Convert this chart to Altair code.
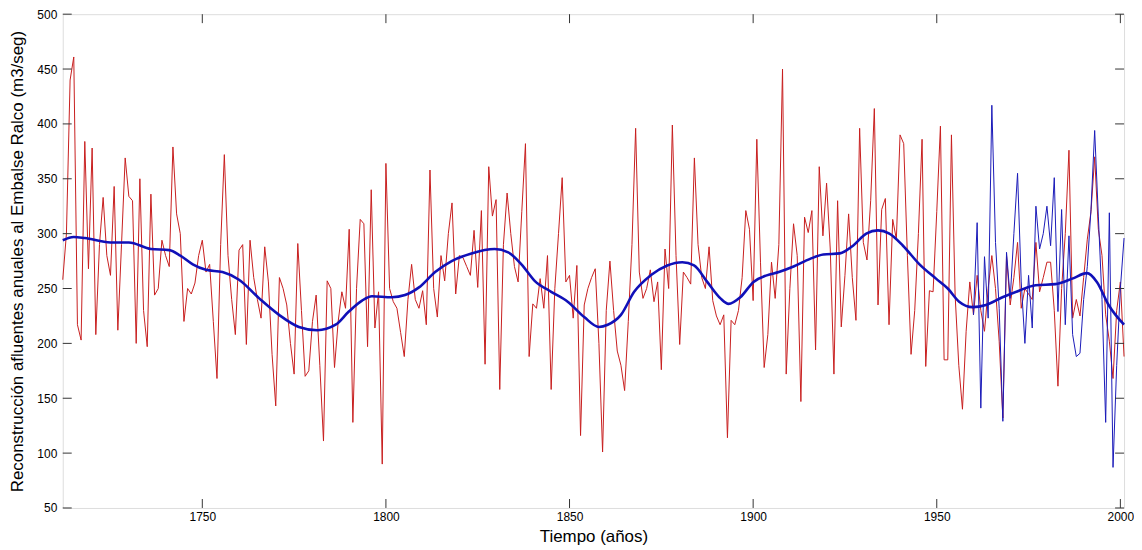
import altair as alt
import pandas as pd

# Red series: reconstructed annual inflows 1712-2001
red_start = 1712
red_values = [
    258, 300, 440, 461, 217, 203, 384, 268, 378, 208,   # 1712-1721
    290, 333, 280, 262, 343, 212, 290, 369, 334, 330,   # 1722-1731
    200, 350, 230, 197, 336, 244, 250, 294, 280, 270,   # 1732-1741
    379, 318, 300, 220, 250, 245, 255, 280, 294, 265,   # 1742-1751
    272, 220, 168, 290, 372, 280, 240, 208, 285, 290,   # 1752-1761
    199, 294, 260, 240, 223, 288, 256, 190, 143, 260,   # 1762-1771
    250, 235, 200, 172, 291, 230, 170, 175, 220, 244,   # 1772-1781
    180, 111, 257, 250, 178, 220, 247, 232, 304, 128,   # 1782-1791
    250, 313, 309, 197, 340, 214, 247, 90, 364, 250,    # 1792-1801
    238, 232, 210, 188, 240, 272, 240, 232, 248, 217,   # 1802-1811
    358, 250, 224, 280, 257, 300, 328, 245, 280, 278,   # 1812-1821
    270, 262, 303, 251, 321, 181, 361, 316, 331, 158,   # 1822-1831
    290, 337, 300, 270, 256, 320, 382, 188, 236, 232,   # 1832-1841
    259, 232, 280, 158, 250, 300, 351, 256, 262, 223,   # 1842-1851
    271, 116, 235, 250, 260, 268, 200, 101, 230, 275,   # 1852-1861
    230, 193, 180, 157, 220, 290, 396, 265, 241, 250,   # 1862-1871
    267, 238, 256, 176, 286, 250, 399, 280, 199, 265,   # 1872-1881
    260, 254, 369, 290, 260, 250, 288, 239, 225, 217,   # 1882-1891
    226, 114, 221, 217, 230, 260, 321, 304, 239, 386,   # 1892-1901
    274, 178, 208, 274, 241, 290, 450, 172, 250, 309,   # 1902-1911
    280, 147, 315, 301, 321, 194, 361, 298, 346, 286,   # 1912-1921
    172, 330, 215, 262, 318, 260, 221, 396, 292, 276,   # 1922-1931
    330, 414, 235, 322, 332, 217, 313, 295, 390, 382,   # 1932-1941
    280, 190, 230, 300, 386, 179, 248, 247, 320, 398,   # 1942-1951
    185, 185, 390, 244, 180, 140, 211, 256, 226, 262,   # 1952-1961
    230, 211, 250, 280, 250, 202, 132, 280, 235, 260,   # 1962-1971
    292, 232, 250, 245, 240, 292, 247, 260, 274, 274,   # 1972-1981
    230, 161, 250, 300, 376, 223, 240, 225, 260, 295,   # 1982-1991
    320, 370, 304, 280, 226, 202, 168, 230, 256, 188,   # 1992-2001
]

# Blue thin series: observed inflows 1960-2001
blue_start = 1960
blue_values = [
    226, 310, 141, 279, 223, 417, 292, 232, 129, 283,   # 1960-1969
    241, 300, 355, 256, 200, 262, 214, 325, 286, 300,   # 1970-1979
    325, 289, 351, 229, 322, 217, 298, 208, 188, 191,   # 1980-1989
    240, 270, 322, 394, 316, 240, 128, 319, 87, 180,    # 1990-1999
    250, 296,                                           # 2000-2001
]

# Smoothed curve (thick blue)
smooth_years = [1712, 1715, 1718, 1725, 1730, 1736, 1741, 1744, 1747.4, 1751,
                1755.5, 1760, 1765.5, 1770.9, 1776.3, 1781.3, 1786.3, 1789.9,
                1793.5, 1796.2, 1801.6, 1805.2, 1809, 1813.4, 1817.9, 1823.3,
                1829.6, 1833.3, 1836.9, 1840.5, 1845, 1849.5, 1854, 1858,
                1860.4, 1864, 1867.6, 1872.1, 1876.6, 1880.7, 1883.9, 1887.5,
                1891.1, 1893.3, 1896.5, 1900.1, 1903.7, 1907, 1911, 1915.5,
                1919.1, 1923.6, 1927.2, 1930.8, 1934, 1937.1, 1940.8, 1945.3,
                1949.8, 1953, 1956.1, 1959.8, 1963.4, 1967.9, 1972.4, 1976.9,
                1982.3, 1986.9, 1990.9, 1993.6, 1996.8, 2001]
smooth_values = [294, 297, 296, 292, 292, 286, 285, 280, 272, 267,
                 265, 258, 241, 226, 215, 212, 217, 229,
                 239, 243, 242, 244, 251, 265, 275, 282,
                 286, 283, 272, 257, 247, 238, 224, 215,
                 217, 226, 247, 262, 271, 274, 271, 256,
                 241, 236, 242, 256, 262, 265, 270, 277,
                 281, 282, 289, 300, 303, 300, 289, 272,
                 259, 250, 238, 233, 235, 242, 248, 253,
                 254, 259, 264, 256, 235, 217]

x_ticks = [1750, 1800, 1850, 1900, 1950, 2000]
y_ticks = [50, 100, 150, 200, 250, 300, 350, 400, 450, 500]

W, H = 1066, 496
FONT = "Liberation Sans"

red_df = pd.DataFrame({"year": [red_start + i for i in range(len(red_values))],
                       "val": red_values})
blue_df = pd.DataFrame({"year": [blue_start + i for i in range(len(blue_values))],
                        "val": blue_values})
smooth_df = pd.DataFrame({"year": smooth_years, "val": smooth_values})
xt_df = pd.DataFrame({"year": x_ticks})
yt_df = pd.DataFrame({"val": y_ticks})

xscale = alt.Scale(domain=[1712, 2001], nice=False, zero=False)
yscale = alt.Scale(domain=[50, 500], nice=False, zero=False)

xaxis = alt.Axis(values=x_ticks, ticks=False, domain=False, grid=False,
                 format="d", labelFont=FONT, labelFontSize=12, labelPadding=4,
                 labelColor="#000", title="Tiempo (años)", titleFont=FONT,
                 titleFontSize=17, titleFontWeight="normal", titleColor="#000",
                 titlePadding=6)
yaxis = alt.Axis(values=y_ticks, ticks=False, domain=False, grid=False,
                 labelFont=FONT, labelFontSize=12, labelPadding=6,
                 labelColor="#000",
                 title="Reconstrucción afluentes anuales al Embalse Ralco (m3/seg)",
                 titleFont=FONT, titleFontSize=17, titleFontWeight="normal",
                 titleColor="#000", titlePadding=10)

red = alt.Chart(red_df).mark_line(color="#c81e1e", strokeWidth=1).encode(
    x=alt.X("year:Q", scale=xscale, axis=xaxis),
    y=alt.Y("val:Q", scale=yscale, axis=yaxis),
)
blue = alt.Chart(blue_df).mark_line(color="#1a1ab8", strokeWidth=1).encode(
    x=alt.X("year:Q", scale=xscale),
    y=alt.Y("val:Q", scale=yscale),
)
smooth = alt.Chart(smooth_df).mark_line(color="#1010b8", strokeWidth=2.6,
                                        interpolate="monotone").encode(
    x=alt.X("year:Q", scale=xscale),
    y=alt.Y("val:Q", scale=yscale),
)

tick_color = "#333333"
xt_bottom = alt.Chart(xt_df).mark_rule(color=tick_color, strokeWidth=1).encode(
    x=alt.X("year:Q", scale=xscale), y=alt.value(H), y2=alt.value(H - 9))
xt_top = alt.Chart(xt_df).mark_rule(color=tick_color, strokeWidth=1).encode(
    x=alt.X("year:Q", scale=xscale), y=alt.value(0), y2=alt.value(9))
yt_left = alt.Chart(yt_df).mark_rule(color=tick_color, strokeWidth=1).encode(
    y=alt.Y("val:Q", scale=yscale), x=alt.value(0), x2=alt.value(9))
yt_right = alt.Chart(yt_df).mark_rule(color=tick_color, strokeWidth=1).encode(
    y=alt.Y("val:Q", scale=yscale), x=alt.value(W), x2=alt.value(W - 9))

chart = alt.layer(red, blue, smooth, xt_bottom, xt_top, yt_left, yt_right).properties(
    width=W, height=H,
    autosize=alt.AutoSizeParams(type="none"),
    padding={"left": 55, "top": 5, "right": 10, "bottom": 41},
).configure_view(stroke="#333333", strokeWidth=1).configure(background="white")

chart.save("out.html", embed_options={"renderer": "svg", "actions": False})
